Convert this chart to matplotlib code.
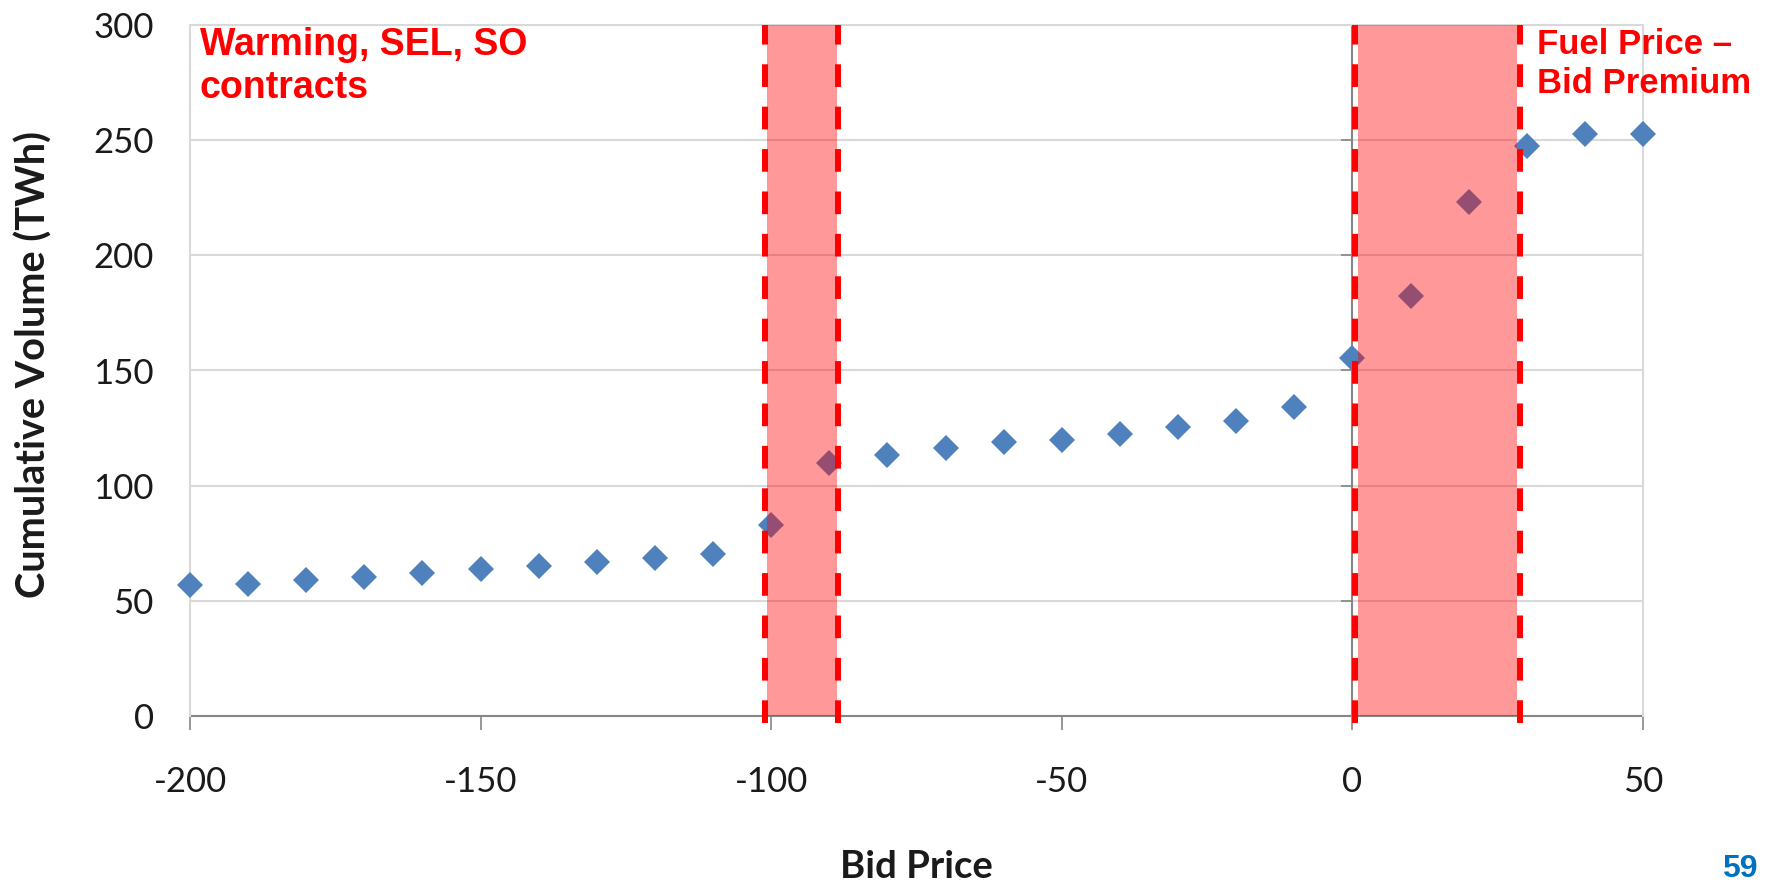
import matplotlib
matplotlib.use("Agg")
import matplotlib.pyplot as plt
from matplotlib.markers import TICKLEFT

# ---- data ----
bid_price = [-200, -190, -180, -170, -160, -150, -140, -130, -120, -110,
             -100, -90, -80, -70, -60, -50, -40, -30, -20, -10,
             0, 10, 20, 30, 40, 50]
cum_volume = [57, 57.5, 59, 60.5, 62, 64, 65, 67, 68.5, 70.5,
              83, 110, 113.5, 116.5, 119, 120, 122.5, 125.5, 128, 134,
              155.5, 182.5, 223, 247.5, 252.5, 252.5]
band1 = (-100.8, -88.7)       # shaded region
band1_lines = (-101.0, -88.5)  # dashed boundaries
band2 = (1.0, 28.4)
band2_lines = (0.5, 28.9)
x_ticks = [-200, -150, -100, -50, 0, 50]
y_ticks = [0, 50, 100, 150, 200, 250, 300]
label_left = "Warming, SEL, SO\ncontracts"
label_right = "Fuel Price \u2013\nBid Premium"
x_title = "Bid Price"
y_title = "Cumulative Volume (TWh)"
page_no = "59"

W, H = 1785, 885
fig = plt.figure(figsize=(W / 100, H / 100), dpi=100)
ax = fig.add_axes([190 / W, 1 - 716 / H, (1643 - 190) / W, (716 - 25) / H])

grid_c = "#D9D9D9"
axis_c = "#868686"
tick_font = "Lato"

ax.set_xlim(-200, 50)
ax.set_ylim(0, 300)
ax.set_xticks(x_ticks)
ax.set_yticks(y_ticks)
ax.set_xticklabels([str(v) for v in x_ticks], fontsize=25, family=tick_font, color="#1a1a1a")
ax.set_yticklabels([str(v) for v in y_ticks], fontsize=25, family=tick_font, color="#1a1a1a")

ax.yaxis.grid(True, color=grid_c, lw=1.5, zorder=0)
ax.set_axisbelow(True)
for s in ["top", "right", "left"]:
    ax.spines[s].set_color(grid_c)
    ax.spines[s].set_linewidth(1.5)
ax.spines["bottom"].set_color(axis_c)
ax.spines["bottom"].set_linewidth(1.5)
ax.spines["bottom"].set_zorder(2)

ax.tick_params(axis="y", length=0, pad=26)
ax.tick_params(axis="x", direction="out", length=10, width=1.2, color=axis_c, pad=26)

# vertical axis line crossing at x = 0 with left tick marks
ax.axvline(0, color=axis_c, lw=1.5, zorder=2)
ax.plot([0] * len(y_ticks), y_ticks, linestyle="none", marker=TICKLEFT,
        markersize=8, markeredgewidth=1.2, color=axis_c, zorder=2, clip_on=False)

# data points
ax.plot(bid_price, cum_volume, linestyle="none", marker="D", markersize=13.5,
        color="#4F81BD", markeredgewidth=0, zorder=3, clip_on=False)

# shaded bands on top of markers
for (a, b) in (band1, band2):
    ax.axvspan(a, b, ymin=0, ymax=1, color="#FF0000", alpha=0.4, lw=0, zorder=4)
for xv in band1_lines + band2_lines:
    ax.plot([xv, xv], [-3, 300], color="#FF0000", lw=4.3, dashes=(3.8, 3.3),
            zorder=5, clip_on=False, solid_capstyle="butt", dash_capstyle="butt")

# annotations
ax.text(-198.3, 299, label_left, color="#FF0000", fontsize=27, fontweight="bold",
        family="Liberation Sans", va="top", ha="left", zorder=6, linespacing=1.25)
ax.text(31.8, 298.5, label_right, color="#FF0000", fontsize=25, fontweight="bold",
        family="Liberation Sans", va="top", ha="left", zorder=6, linespacing=1.22,
        clip_on=False)

# axis titles
fig.text(916 / W, 1 - 867 / H, x_title, fontsize=27.5, fontweight="bold",
         family=tick_font, ha="center", va="center", color="#1a1a1a")
fig.text(34 / W, 1 - 365 / H, y_title, fontsize=28.5, fontweight="bold",
         family=tick_font, ha="center", va="center", rotation=90, color="#1a1a1a")

fig.text(1740 / W, 1 - 869 / H, page_no, fontsize=23, fontweight="bold",
         family="Liberation Sans", ha="center", va="center", color="#0070C0")

fig.savefig("out.png", dpi=100, facecolor="white")
